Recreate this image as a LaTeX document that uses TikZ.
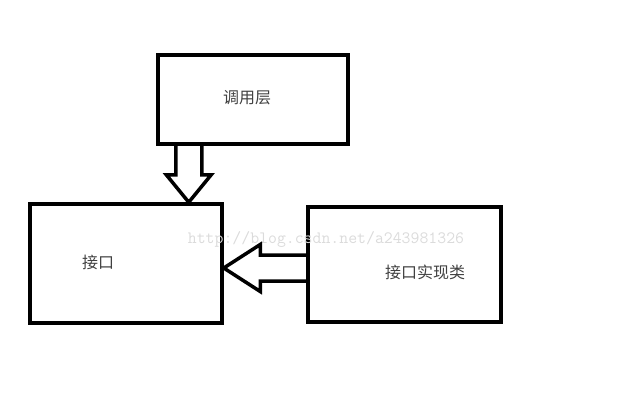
\documentclass[tikz,border=0pt]{standalone}
\usepackage{fontspec}
\newfontfamily\cjk{Noto Sans CJK SC}
\usetikzlibrary{calc}
\tikzset{
  box/.style={draw, line width=3.5pt, inner sep=0pt},
  blockarrow/.style={draw, line width=3.5pt, line join=miter},
  lbl/.style={font=\cjk\fontsize{16}{19}\selectfont, text=black!75},
}
\begin{document}
\begin{tikzpicture}[x=1pt, y=1pt]
    \useasboundingbox (0,0) rectangle (640,416);
    \node[box, minimum width=190pt, minimum height=89pt] (call) at (253,316.5) {};
    \node[box, minimum width=192pt, minimum height=119pt] (iface) at (126,152.5) {};
    \node[box, minimum width=193pt, minimum height=115pt] (impl) at (404.5,151.5) {};
    \node[font=\ttfamily\fontsize{17.3}{20}\selectfont, text=black!14] (mark) at (326,177) {http://blog.csdn.net/a243981326};
    \node[lbl] (calltext) at (247,318) {调用层};
    \node[lbl] (ifacetext) at (98,154) {接口};
    \node[lbl] (impltext) at (425,144) {接口实现类};
    % down arrow
    \coordinate (dtop) at ($(call.south west)!0.168!(call.south east)$);
    \coordinate (dtip) at (dtop |- iface.north);
    \draw[blockarrow] ($(dtop)+(-13,0)$) -- ($(dtop)+(-13,-29)$) -- ($(dtop)+(-22.5,-29)$) -- (dtip)
        -- ($(dtop)+(22.5,-29)$) -- ($(dtop)+(13,-29)$) -- ($(dtop)+(13,0)$);
    % left arrow
    \coordinate (ltail) at ($(impl.west)+(0,-3.5)$);
    \coordinate (ltip) at (ltail -| iface.east);
    \draw[blockarrow] ($(ltail)+(0,13)$) -- ($(ltail)+(-46,13)$) -- ($(ltail)+(-46,23.5)$) -- (ltip)
        -- ($(ltail)+(-46,-23.5)$) -- ($(ltail)+(-46,-13)$) -- ($(ltail)+(0,-13)$);
\end{tikzpicture}
\end{document}
